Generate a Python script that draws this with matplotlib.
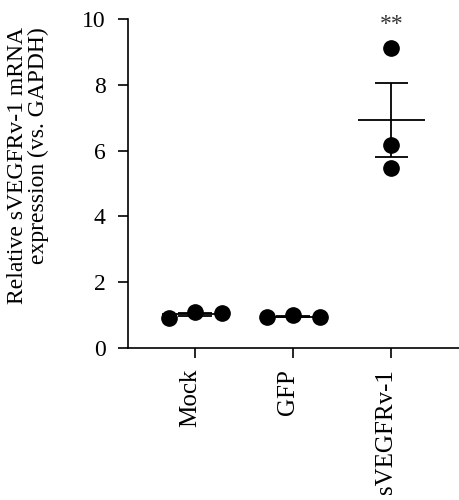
import numpy as np
import matplotlib.pyplot as plt
from matplotlib.transforms import ScaledTranslation

plt.rcParams['font.family'] = ['Liberation Serif', 'DejaVu Serif']
plt.rcParams['font.size'] = 17

groups = ["Mock", "GFP", "sVEGFRv-1"]
mock = [0.91, 1.09, 1.06]
gfp = [0.93, 1.01, 0.93]
svegfr = [9.12, 6.18, 5.47]
values = [mock, gfp, svegfr]
# horizontal jitter of the dots within each group
jitter = [[-0.27, 0.0, 0.27], [-0.27, 0.0, 0.27], [0.0, 0.0, 0.0]]

fig = plt.figure(figsize=(4.6, 5.0), dpi=100)
ax = fig.add_axes([0.278, 0.304, 0.722, 0.658])

for i, vals in enumerate(values):
    vals = np.array(vals)
    mean = vals.mean()
    sem = vals.std(ddof=1) / np.sqrt(len(vals))
    ax.hlines(mean, i - 0.34, i + 0.34, color='black', lw=1.3, zorder=2)
    ax.vlines(i, mean - sem, mean + sem, color='black', lw=1.3, zorder=2)
    ax.hlines([mean - sem, mean + sem], i - 0.17, i + 0.17, color='black', lw=1.3, zorder=2)
    ax.plot(np.array(jitter[i]) + i, vals, 'o', color='black', ms=11, zorder=3,
            linestyle='none')

ax.text(2, 9.5, '**', ha='center', va='bottom', fontsize=17, color='#333333')

ax.set_xlim(-0.684, 2.70)
ax.set_ylim(0, 10)
ax.set_yticks([0, 2, 4, 6, 8, 10])
ax.set_xticks([0, 1, 2])
ax.set_xticklabels(groups, rotation=90, fontsize=18)
ax.spines['top'].set_visible(False)
ax.spines['right'].set_visible(False)
for s in ['left', 'bottom']:
    ax.spines[s].set_linewidth(1.2)
ax.tick_params(length=7, width=1.2)
ax.tick_params(axis='x', pad=8)
ax.tick_params(axis='y', labelsize=17, pad=9)

# shift category labels slightly left, as in the original
offset = ScaledTranslation(-0.05, 0, fig.dpi_scale_trans)
for label in ax.xaxis.get_majorticklabels():
    label.set_transform(label.get_transform() + offset)

fig.text(28 / 460, 1 - 27 / 500, 'Relative sVEGFRv-1 mRNA\nexpression (vs. GAPDH)',
         rotation=90, ha='center', va='top', multialignment='right',
         linespacing=1.0, fontsize=17)

plt.savefig('out.png', dpi=100)
